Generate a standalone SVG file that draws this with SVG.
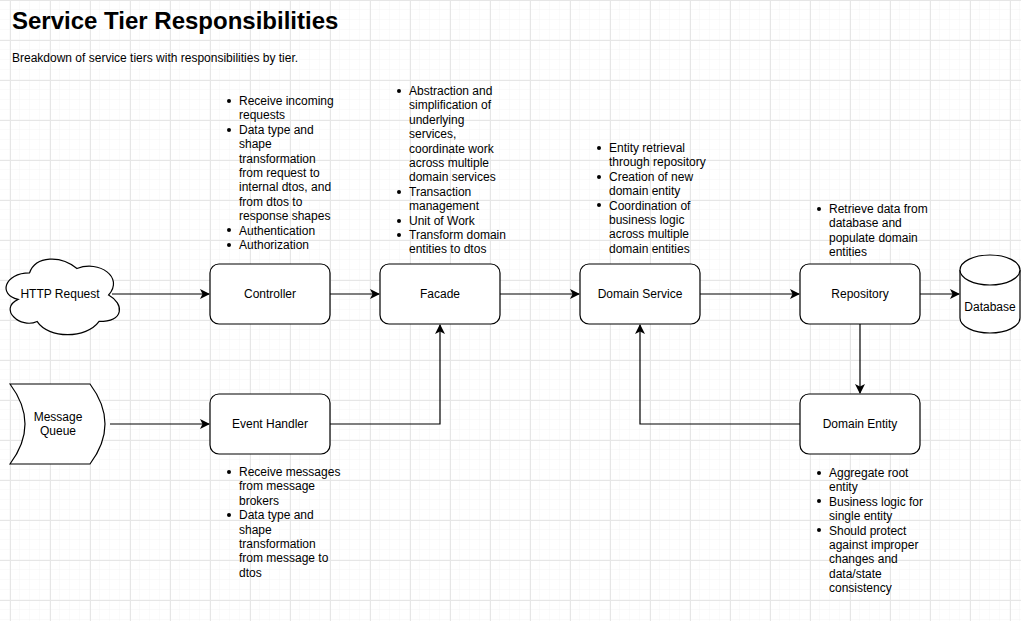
<svg xmlns="http://www.w3.org/2000/svg" width="1021" height="621" viewBox="0 0 1021 621">
<defs>
<pattern id="minor" width="10" height="10" patternUnits="userSpaceOnUse">
<path d="M10 0V10M0 10H10" fill="none" stroke="#f5f5f5" stroke-width="1"/>
</pattern>
<pattern id="major" x="10" y="0" width="40" height="40" patternUnits="userSpaceOnUse">
<rect width="40" height="40" fill="url(#minor)"/>
<path d="M0.5 0V40M0 0.5H40" fill="none" stroke="#e6e6e6" stroke-width="1"/>
</pattern>
<marker id="arr" viewBox="0 0 10 10" refX="9" refY="5" markerWidth="10" markerHeight="10" markerUnits="userSpaceOnUse" orient="auto">
<path d="M0 0L10 5L0 10L2.5 5Z" fill="#000"/>
</marker>
</defs>
<style>
.node{fill:#fff;stroke:#000;stroke-width:1.2}
.lbl{font-family:"Liberation Sans",Arial,sans-serif;font-size:12px;fill:#000;text-anchor:middle;dominant-baseline:central}
.txt{font-family:"Liberation Sans",Arial,sans-serif;font-size:12px;fill:#000}
.edge{fill:none;stroke:#000;stroke-width:1.2;marker-end:url(#arr)}
.bul{fill:#000}
</style>
<rect width="1021" height="621" fill="#fff"/>
<rect width="1021" height="621" fill="url(#major)"/>

<text x="12" y="29" font-family="Liberation Sans,Arial,sans-serif" font-size="24" font-weight="bold">Service Tier Responsibilities</text>
<text x="12" y="62" class="txt">Breakdown of service tiers with responsibilities by tier.</text>

<g id="connectors">
<path class="edge" d="M112 294H209"/>
<path class="edge" d="M330 294H379"/>
<path class="edge" d="M500 294H579"/>
<path class="edge" d="M700 294H799"/>
<path class="edge" d="M920 294H959"/>
<path class="edge" d="M110 424H209"/>
<path class="edge" d="M330 424H440V325"/>
<path class="edge" d="M860 324V393"/>
<path class="edge" d="M800 424H640V325"/>
</g>

<g id="http-request">
<path class="node" transform="translate(60 295) scale(1.13) translate(-60 -295)" vector-effect="non-scaling-stroke" d="M33 275.5C10.6 275.5 5 295 22.9 298.9C5 307.5 25.2 325.4 39.7 318.4C49.8 334 83.4 334 94.6 318.4C117 318.4 117 302.8 103 295C117 279.4 94.6 263.8 75 271.6C61 259.9 38.6 259.9 33 275.5Z"/>
<text class="lbl" x="60" y="294">HTTP Request</text>
</g>

<g id="controller">
<rect class="node" x="210" y="264" width="120" height="60" rx="9"/>
<text class="lbl" x="270" y="294">Controller</text>
</g>
<g id="controller-notes" class="txt">
<circle class="bul" cx="229" cy="101" r="2"/><circle class="bul" cx="229" cy="130" r="2"/><circle class="bul" cx="229" cy="230" r="2"/><circle class="bul" cx="229" cy="245" r="2"/>
<text x="239" y="105">Receive incoming</text>
<text x="239" y="119.4">requests</text>
<text x="239" y="133.8">Data type and</text>
<text x="239" y="148.2">shape</text>
<text x="239" y="162.6">transformation</text>
<text x="239" y="177">from request to</text>
<text x="239" y="191.4">internal dtos, and</text>
<text x="239" y="205.8">from dtos to</text>
<text x="239" y="220.2">response shapes</text>
<text x="239" y="234.6">Authentication</text>
<text x="239" y="249">Authorization</text>
</g>

<g id="facade">
<rect class="node" x="380" y="264" width="120" height="60" rx="9"/>
<text class="lbl" x="440" y="294">Facade</text>
</g>
<g id="facade-notes" class="txt">
<circle class="bul" cx="399" cy="91" r="2"/><circle class="bul" cx="399" cy="192" r="2"/><circle class="bul" cx="399" cy="221" r="2"/><circle class="bul" cx="399" cy="235" r="2"/>
<text x="409" y="95">Abstraction and</text>
<text x="409" y="109.4">simplification of</text>
<text x="409" y="123.8">underlying</text>
<text x="409" y="138.2">services,</text>
<text x="409" y="152.6">coordinate work</text>
<text x="409" y="167">across multiple</text>
<text x="409" y="181.4">domain services</text>
<text x="409" y="195.8">Transaction</text>
<text x="409" y="210.2">management</text>
<text x="409" y="224.6">Unit of Work</text>
<text x="409" y="239">Transform domain</text>
<text x="409" y="253.4">entities to dtos</text>
</g>

<g id="domain-service">
<rect class="node" x="580" y="264" width="120" height="60" rx="9"/>
<text class="lbl" x="640" y="294">Domain Service</text>
</g>
<g id="domain-service-notes" class="txt">
<circle class="bul" cx="599" cy="148" r="2"/><circle class="bul" cx="599" cy="177" r="2"/><circle class="bul" cx="599" cy="205" r="2"/>
<text x="609" y="152">Entity retrieval</text>
<text x="609" y="166.4">through repository</text>
<text x="609" y="180.8">Creation of new</text>
<text x="609" y="195.2">domain entity</text>
<text x="609" y="209.6">Coordination of</text>
<text x="609" y="224">business logic</text>
<text x="609" y="238.4">across multiple</text>
<text x="609" y="252.8">domain entities</text>
</g>

<g id="repository">
<rect class="node" x="800" y="264" width="120" height="60" rx="9"/>
<text class="lbl" x="860" y="294">Repository</text>
</g>
<g id="repository-notes" class="txt">
<circle class="bul" cx="819" cy="209" r="2"/>
<text x="829" y="213">Retrieve data from</text>
<text x="829" y="227.4">database and</text>
<text x="829" y="241.8">populate domain</text>
<text x="829" y="256.2">entities</text>
</g>

<g id="database">
<path class="node" d="M960 270V318A30 15 0 0 0 1020 318V270A30 15 0 0 0 960 270Z"/>
<path class="node" fill="none" d="M960 270A30 15 0 0 0 1020 270"/>
<text class="lbl" x="990" y="307">Database</text>
</g>

<g id="message-queue">
<path class="node" d="M10 384H90Q120 424 90 464H10Q40 424 10 384Z"/>
<text class="lbl" x="58" y="417">Message</text>
<text class="lbl" x="58" y="431.4">Queue</text>
</g>

<g id="event-handler">
<rect class="node" x="210" y="394" width="120" height="60" rx="9"/>
<text class="lbl" x="270" y="424">Event Handler</text>
</g>
<g id="event-handler-notes" class="txt">
<circle class="bul" cx="229" cy="472" r="2"/><circle class="bul" cx="229" cy="515" r="2"/>
<text x="239" y="476">Receive messages</text>
<text x="239" y="490.4">from message</text>
<text x="239" y="504.8">brokers</text>
<text x="239" y="519.2">Data type and</text>
<text x="239" y="533.6">shape</text>
<text x="239" y="548">transformation</text>
<text x="239" y="562.4">from message to</text>
<text x="239" y="576.8">dtos</text>
</g>

<g id="domain-entity">
<rect class="node" x="800" y="394" width="120" height="60" rx="9"/>
<text class="lbl" x="860" y="424">Domain Entity</text>
</g>
<g id="domain-entity-notes" class="txt">
<circle class="bul" cx="819" cy="473" r="2"/><circle class="bul" cx="819" cy="501" r="2"/><circle class="bul" cx="819" cy="530" r="2"/>
<text x="829" y="477">Aggregate root</text>
<text x="829" y="491.4">entity</text>
<text x="829" y="505.8">Business logic for</text>
<text x="829" y="520.2">single entity</text>
<text x="829" y="534.6">Should protect</text>
<text x="829" y="549">against improper</text>
<text x="829" y="563.4">changes and</text>
<text x="829" y="577.8">data/state</text>
<text x="829" y="592.2">consistency</text>
</g>
</svg>
